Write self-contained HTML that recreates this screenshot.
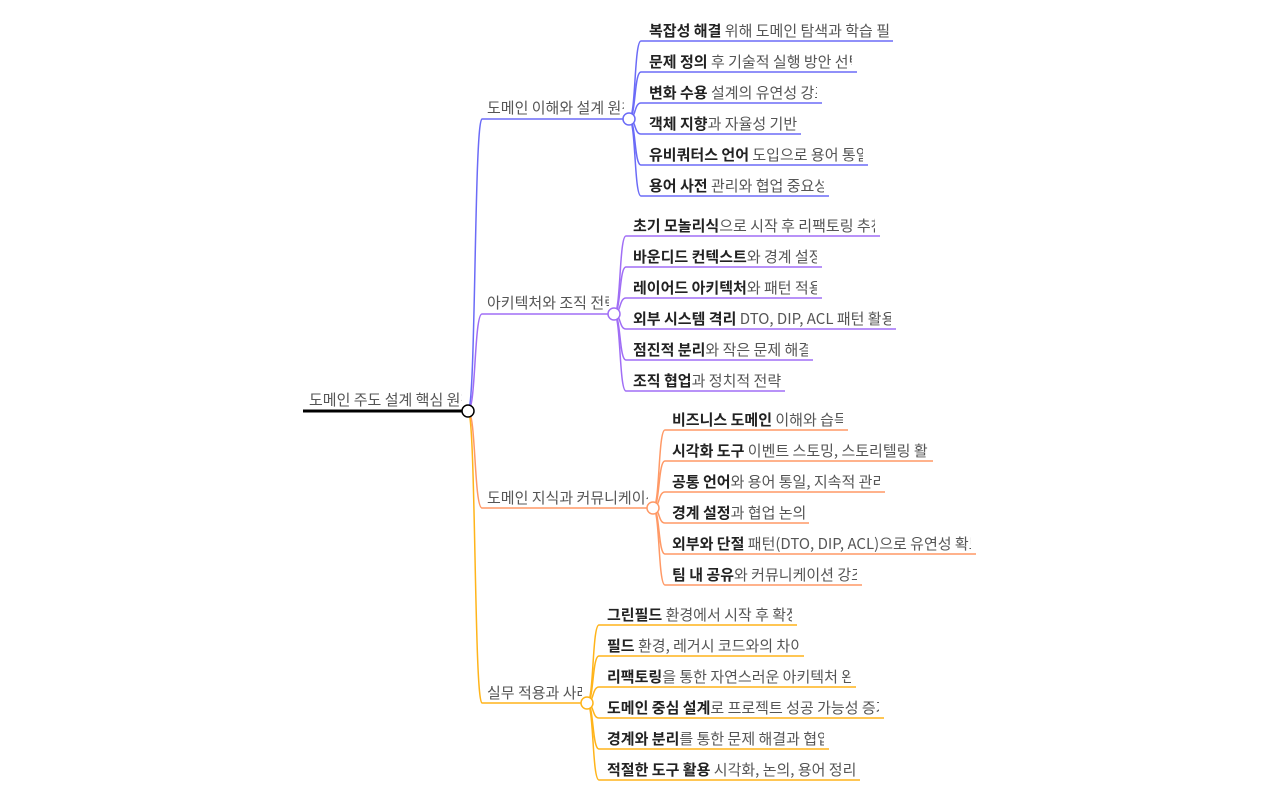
<!DOCTYPE html>
<html><head><meta charset="utf-8">
<style>
html,body{margin:0;padding:0;background:#fff;width:1280px;height:800px;overflow:hidden}
.t{position:absolute;height:20px;line-height:20px;font-size:15px;white-space:nowrap;overflow:hidden;color:#555;font-family:"Noto Sans CJK KR","Liberation Sans",sans-serif;margin-top:1px}
.t b{color:#222;font-weight:bold}
svg{position:absolute;left:0;top:0}
</style></head><body>
<svg width="1280" height="800" fill="none">
<g stroke="#6b6bf7" stroke-width="1.5">
<path d="M468,411 C476,411 474,119 482,119 L629,119"/>
<path d="M629,119 C636,119 634,41 641,41 L893,41"/>
<path d="M629,119 C636,119 634,72 641,72 L857,72"/>
<path d="M629,119 C636,119 634,103 641,103 L822,103"/>
<path d="M629,119 C636,119 634,134 641,134 L801,134"/>
<path d="M629,119 C636,119 634,165 641,165 L868,165"/>
<path d="M629,119 C636,119 634,196 641,196 L829,196"/>
<circle cx="629" cy="119" r="6" fill="#fff"/>
</g>
<g stroke="#a06ef5" stroke-width="1.5">
<path d="M468,411 C476,411 474,314 482,314 L614,314"/>
<path d="M614,314 C621,314 619,236 626,236 L880,236"/>
<path d="M614,314 C621,314 619,267 626,267 L822,267"/>
<path d="M614,314 C621,314 619,298 626,298 L822,298"/>
<path d="M614,314 C621,314 619,329 626,329 L896,329"/>
<path d="M614,314 C621,314 619,360 626,360 L813,360"/>
<path d="M614,314 C621,314 619,391 626,391 L785,391"/>
<circle cx="614" cy="314" r="6" fill="#fff"/>
</g>
<g stroke="#ff9966" stroke-width="1.5">
<path d="M468,411 C476,411 474,508 482,508 L653,508"/>
<path d="M653,508 C660,508 658,430 665,430 L848,430"/>
<path d="M653,508 C660,508 658,461 665,461 L933,461"/>
<path d="M653,508 C660,508 658,492 665,492 L885,492"/>
<path d="M653,508 C660,508 658,523 665,523 L809,523"/>
<path d="M653,508 C660,508 658,554 665,554 L976,554"/>
<path d="M653,508 C660,508 658,585 665,585 L862,585"/>
<circle cx="653" cy="508" r="6" fill="#fff"/>
</g>
<g stroke="#ffb41a" stroke-width="1.5">
<path d="M468,411 C476,411 474,703 482,703 L587,703"/>
<path d="M587,703 C594,703 592,625 599,625 L797,625"/>
<path d="M587,703 C594,703 592,656 599,656 L804,656"/>
<path d="M587,703 C594,703 592,687 599,687 L856,687"/>
<path d="M587,703 C594,703 592,718 599,718 L884,718"/>
<path d="M587,703 C594,703 592,749 599,749 L829,749"/>
<path d="M587,703 C594,703 592,780 599,780 L860,780"/>
<circle cx="587" cy="703" r="6" fill="#fff"/>
</g>
<path d="M303,411 L468,411" stroke="#000" stroke-width="3"/>
<circle cx="468" cy="411" r="6" fill="#fff" stroke="#000" stroke-width="1.5"/>
</svg>

<div class="t" style="left:309px;top:389px;width:153px">도메인 주도 설계 핵심 원칙</div>

<div class="t" style="left:487px;top:97px;width:137px">도메인 이해와 설계 원칙</div>
<div class="t" style="left:649px;top:20px;width:240px"><b>복잡성 해결</b> 위해 도메인 탐색과 학습 필요</div>
<div class="t" style="left:649px;top:51px;width:203px"><b>문제 정의</b> 후 기술적 실행 방안 선택</div>
<div class="t" style="left:649px;top:82px;width:168px"><b>변화 수용</b> 설계의 유연성 강조</div>
<div class="t" style="left:649px;top:113px;width:148px"><b>객체 지향</b>과 자율성 기반</div>
<div class="t" style="left:649px;top:144px;width:214px"><b>유비쿼터스 언어</b> 도입으로 용어 통일</div>
<div class="t" style="left:649px;top:175px;width:175px"><b>용어 사전</b> 관리와 협업 중요성</div>

<div class="t" style="left:487px;top:292px;width:122px">아키텍처와 조직 전략</div>
<div class="t" style="left:633px;top:215px;width:242px"><b>초기 모놀리식</b>으로 시작 후 리팩토링 추천</div>
<div class="t" style="left:633px;top:246px;width:184px"><b>바운디드 컨텍스트</b>와 경계 설정</div>
<div class="t" style="left:633px;top:277px;width:184px"><b>레이어드 아키텍처</b>와 패턴 적용</div>
<div class="t" style="left:633px;top:308px;width:258px"><b>외부 시스템 격리</b> DTO, DIP, ACL 패턴 활용</div>
<div class="t" style="left:633px;top:339px;width:175px"><b>점진적 분리</b>와 작은 문제 해결</div>
<div class="t" style="left:633px;top:370px;width:150px"><b>조직 협업</b>과 정치적 전략</div>

<div class="t" style="left:487px;top:487px;width:161px">도메인 지식과 커뮤니케이션</div>
<div class="t" style="left:672px;top:409px;width:171px"><b>비즈니스 도메인</b> 이해와 습득</div>
<div class="t" style="left:672px;top:440px;width:256px"><b>시각화 도구</b> 이벤트 스토밍, 스토리텔링 활용</div>
<div class="t" style="left:672px;top:471px;width:208px"><b>공통 언어</b>와 용어 통일, 지속적 관리</div>
<div class="t" style="left:672px;top:502px;width:134px"><b>경계 설정</b>과 협업 논의</div>
<div class="t" style="left:672px;top:533px;width:299px"><b>외부와 단절</b> 패턴(DTO, DIP, ACL)으로 유연성 확보</div>
<div class="t" style="left:672px;top:564px;width:185px"><b>팀 내 공유</b>와 커뮤니케이션 강조</div>

<div class="t" style="left:487px;top:682px;width:95px">실무 적용과 사례</div>
<div class="t" style="left:607px;top:604px;width:185px"><b>그린필드</b> 환경에서 시작 후 확장</div>
<div class="t" style="left:607px;top:635px;width:192px"><b>필드</b> 환경, 레거시 코드와의 차이</div>
<div class="t" style="left:607px;top:666px;width:244px"><b>리팩토링</b>을 통한 자연스러운 아키텍처 완성</div>
<div class="t" style="left:607px;top:697px;width:272px"><b>도메인 중심 설계</b>로 프로젝트 성공 가능성 증가</div>
<div class="t" style="left:607px;top:728px;width:217px"><b>경계와 분리</b>를 통한 문제 해결과 협업</div>
<div class="t" style="left:607px;top:759px;width:248px"><b>적절한 도구 활용</b> 시각화, 논의, 용어 정리</div>
</body></html>
